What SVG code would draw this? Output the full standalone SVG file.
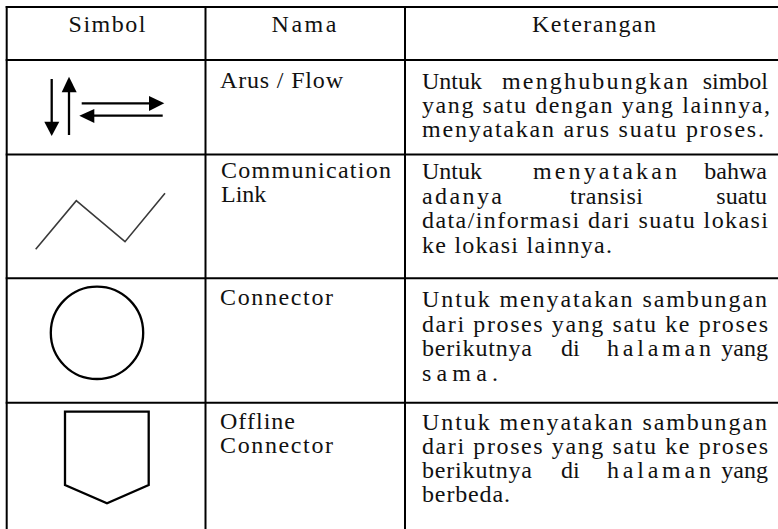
<svg xmlns="http://www.w3.org/2000/svg" width="778" height="529" viewBox="0 0 778 529">
<style>
.t{font-family:"Liberation Serif","Times New Roman",serif;font-size:24px;fill:#111;}
.h{text-anchor:middle;}
.e{text-anchor:end;}
.grid{stroke:#000;stroke-width:2;fill:none;}
.sym{stroke:#000;stroke-width:2.3;fill:none;}
.head{fill:#000;stroke:none;}
</style>
<rect width="778" height="529" fill="#fff"/>
<g id="grid" class="grid">
<line x1="5.7" y1="7" x2="778" y2="7"/>
<line x1="5.7" y1="60" x2="778" y2="60"/>
<line x1="5.7" y1="154.5" x2="778" y2="154.5"/>
<line x1="5.7" y1="278.3" x2="778" y2="278.3"/>
<line x1="5.7" y1="402.7" x2="778" y2="402.7"/>
<line x1="6.7" y1="6" x2="6.7" y2="529"/>
<line x1="205.5" y1="6" x2="205.5" y2="529"/>
<line x1="405" y1="6" x2="405" y2="529"/>
</g>
<g id="header">
<text class="t h" x="107" y="32" textLength="77" lengthAdjust="spacing">Simbol</text>
<text class="t h" x="304" y="32" textLength="65" lengthAdjust="spacing">Nama</text>
<text class="t h" x="594" y="32" textLength="124" lengthAdjust="spacing">Keterangan</text>
</g>
<g id="row-flow">
<g id="sym-flow">
<line class="sym" x1="51.7" y1="79" x2="51.7" y2="123"/>
<polygon class="head" points="44.3,121.7 59.3,121.7 51.7,136"/>
<line class="sym" x1="69" y1="135" x2="69" y2="91"/>
<polygon class="head" points="61.7,92.3 76.7,92.3 69,76.7"/>
<line class="sym" x1="81.7" y1="103.3" x2="150" y2="103.3"/>
<polygon class="head" points="149,96 149,111 164.3,103.3"/>
<line class="sym" x1="162.7" y1="115.7" x2="93" y2="115.7"/>
<polygon class="head" points="94.3,109 94.3,123 79.3,115.7"/>
</g>
<text class="t" x="220" y="88" textLength="123" lengthAdjust="spacing">Arus / Flow</text>
<text class="t" x="422" y="89">Untuk</text>
<text class="t" x="502" y="89" textLength="186" lengthAdjust="spacing">menghubungkan</text>
<text class="t e" x="768" y="89">simbol</text>
<text class="t" x="422" y="113" textLength="348" lengthAdjust="spacing">yang satu dengan yang lainnya,</text>
<text class="t" x="422" y="137" textLength="342" lengthAdjust="spacing">menyatakan arus suatu proses.</text>
</g>
<g id="row-link">
<polyline id="sym-link" points="35.7,249.3 76.3,200.7 125,241.7 165,193.3" fill="none" stroke="#3a3a3a" stroke-width="1.6"/>
<text class="t" x="221" y="178" textLength="170" lengthAdjust="spacing">Communication</text>
<text class="t" x="221" y="202">Link</text>
<text class="t" x="422" y="179">Untuk</text>
<text class="t" x="533" y="179" textLength="144" lengthAdjust="spacing">menyatakan</text>
<text class="t e" x="767" y="179">bahwa</text>
<text class="t" x="422" y="203.5" textLength="80" lengthAdjust="spacing">adanya</text>
<text class="t" x="570" y="203.5" textLength="73" lengthAdjust="spacing">transisi</text>
<text class="t e" x="767" y="203.5">suatu</text>
<text class="t" x="422" y="228" textLength="346" lengthAdjust="spacing">data/informasi dari suatu lokasi</text>
<text class="t" x="422" y="252.5" textLength="190" lengthAdjust="spacing">ke lokasi lainnya.</text>
</g>
<g id="row-connector">
<circle id="sym-connector" cx="97" cy="332.8" r="46.2" class="sym" stroke-width="2"/>
<text class="t" x="220" y="305" textLength="113" lengthAdjust="spacing">Connector</text>
<text class="t" x="422" y="307" textLength="345" lengthAdjust="spacing">Untuk menyatakan sambungan</text>
<text class="t" x="422" y="331.5" textLength="346" lengthAdjust="spacing">dari proses yang satu ke proses</text>
<text class="t" x="422" y="356" textLength="110" lengthAdjust="spacing">berikutnya</text>
<text class="t" x="561" y="356">di</text>
<text class="t" x="607" y="356" textLength="104" lengthAdjust="spacing">halaman</text>
<text class="t e" x="768" y="356">yang</text>
<text class="t" x="422" y="380.5" textLength="76" lengthAdjust="spacing">sama.</text>
</g>
<g id="row-offline">
<polygon id="sym-offline" points="65,411.7 148.7,411.7 148.7,485 107,503.3 65,485" class="sym" stroke-width="2" stroke-linejoin="miter"/>
<text class="t" x="220" y="429" textLength="75" lengthAdjust="spacing">Offline</text>
<text class="t" x="220" y="453" textLength="113" lengthAdjust="spacing">Connector</text>
<text class="t" x="422" y="430" textLength="345" lengthAdjust="spacing">Untuk menyatakan sambungan</text>
<text class="t" x="422" y="454" textLength="346" lengthAdjust="spacing">dari proses yang satu ke proses</text>
<text class="t" x="422" y="478" textLength="110" lengthAdjust="spacing">berikutnya</text>
<text class="t" x="561" y="478">di</text>
<text class="t" x="607" y="478" textLength="104" lengthAdjust="spacing">halaman</text>
<text class="t e" x="768" y="478">yang</text>
<text class="t" x="422" y="502" textLength="88" lengthAdjust="spacing">berbeda.</text>
</g>
</svg>
